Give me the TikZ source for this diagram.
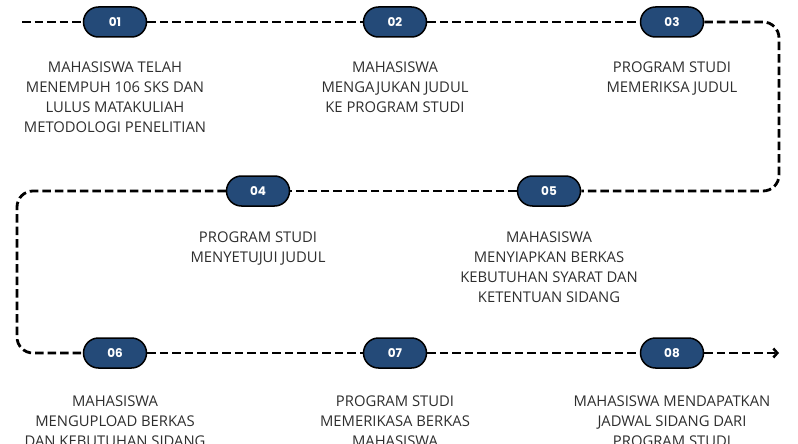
\documentclass[tikz,border=0pt]{standalone}
\usepackage{fontspec}
\setmainfont{Open Sans}
\newfontfamily\pillfont{Poppins}
\usetikzlibrary{arrows.meta, positioning}

\definecolor{pillblue}{HTML}{244A78}
\definecolor{txtgray}{HTML}{2E2E2E}

\tikzset{
	pill/.style={rectangle, rounded corners=15pt, draw=black, line width=1.5pt, fill=pillblue,
		minimum width=63pt, minimum height=30pt, inner sep=0pt, text=white,
		font=\pillfont\bfseries\fontsize{12}{12}\selectfont},
	stepinfo/.style={align=center, inner sep=0pt, text=txtgray,
		font=\fontsize{14.8}{20}\selectfont},
	flow/.style={line width=2.8pt, dash pattern=on 8.5pt off 4pt, rounded corners=16pt}
}

\begin{document}
\begin{tikzpicture}[x=1pt, y=-1pt]
	\useasboundingbox (0,0) rectangle (798,444);

	%steps
	\node[pill] (s1) at (115,22)  {01};
	\node[pill] (s2) at (395,22)  {02};
	\node[pill] (s3) at (672,22)  {03};
	\node[pill] (s4) at (258,191) {04};
	\node[pill] (s5) at (549,191) {05};
	\node[pill] (s6) at (115,353) {06};
	\node[pill] (s7) at (395,353) {07};
	\node[pill] (s8) at (672,353) {08};

	%corners of the path
	\coordinate (start) at (22,22);
	\coordinate (r1) at (779,22);
	\coordinate (r2) at (779,191);
	\coordinate (l1) at (17,191);
	\coordinate (l2) at (17,353);
	\coordinate (stop) at (779,353);

	%path
	\draw[flow] (start) -- (s1);
	\draw[flow] (s1) -- (s2);
	\draw[flow] (s2) -- (s3);
	\draw[flow] (s3) -- (r1) -- (r2) -- (s5);
	\draw[flow] (s5) -- (s4);
	\draw[flow] (s4) -- (l1) -- (l2) -- (s6);
	\draw[flow] (s6) -- (s7);
	\draw[flow] (s7) -- (s8);
	\draw[flow, -{Straight Barb[length=4pt, width=9pt, line width=2.5pt]}] (s8) -- (stop);

	%labels
	\node[stepinfo, below=24pt of s1] (t1) {MAHASISWA TELAH\\MENEMPUH 106 SKS DAN\\LULUS MATAKULIAH\\METODOLOGI PENELITIAN};
	\node[stepinfo, below=24pt of s2] (t2) {MAHASISWA\\MENGAJUKAN JUDUL\\KE PROGRAM STUDI};
	\node[stepinfo, below=24pt of s3] (t3) {PROGRAM STUDI\\MEMERIKSA JUDUL};
	\node[stepinfo, below=25pt of s4] (t4) {PROGRAM STUDI\\MENYETUJUI JUDUL};
	\node[stepinfo, below=25pt of s5] (t5) {MAHASISWA\\MENYIAPKAN BERKAS\\KEBUTUHAN SYARAT DAN\\KETENTUAN SIDANG};
	\node[stepinfo, below=27pt of s6] (t6) {MAHASISWA\\MENGUPLOAD BERKAS\\DAN KEBUTUHAN SIDANG};
	\node[stepinfo, below=27pt of s7] (t7) {PROGRAM STUDI\\MEMERIKASA BERKAS\\MAHASISWA};
	\node[stepinfo, below=27pt of s8] (t8) {MAHASISWA MENDAPATKAN\\JADWAL SIDANG DARI\\PROGRAM STUDI};
\end{tikzpicture}
\end{document}
